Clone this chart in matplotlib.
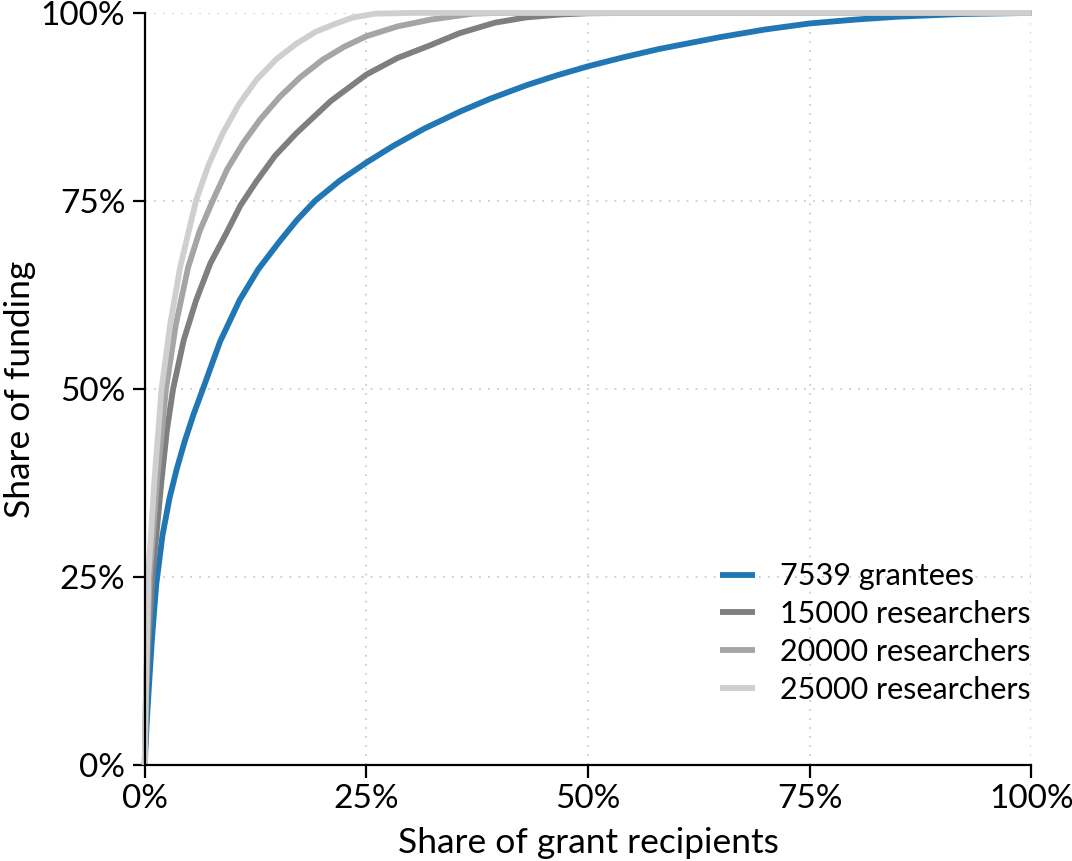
import matplotlib
matplotlib.use("Agg")
import matplotlib.pyplot as plt
from matplotlib.ticker import PercentFormatter

plt.rcParams['font.family'] = ['Lato', 'DejaVu Sans']

# Lorenz-style curves (x = share of recipients %, y = share of funding %)
grantees_x = [0, 0.2, 0.45, 0.8, 1.3, 2.0, 2.8, 3.6, 4.5, 5.5, 6.5, 8.5, 10.7, 12.8, 15.2, 17.2, 19.2, 22, 25,
              28, 31.5, 35.6, 39, 43.1, 46.5, 50, 54, 58, 65, 70, 75, 80, 85, 92, 100]
grantees_y = [0, 5, 10, 16.5, 24, 30.5, 35.5, 39.3, 43, 46.6, 49.8, 56.3, 61.8, 65.9, 69.6, 72.5, 75, 77.7, 80.1,
              82.3, 84.6, 86.9, 88.6, 90.4, 91.7, 92.9, 94.1, 95.2, 96.8, 97.8, 98.6, 99.1, 99.5, 99.85, 100]

r15000_x = [0, 0.15, 0.4, 0.87, 1.9, 2.5, 3.2, 4.4, 5.8, 7.4, 9.2, 10.8, 12.6, 14.7, 17.1, 21, 25, 28.5, 32,
            35.5, 39.5, 43, 47, 50, 55, 100]
r15000_y = [0, 8, 16, 25, 37.9, 44.5, 50, 56.5, 61.8, 66.7, 70.7, 74.4, 77.6, 81, 84.0, 88.3, 91.8, 94, 95.6,
            97.3, 98.7, 99.4, 99.8, 99.95, 100, 100]

r20000_x = [0, 0.12, 0.3, 0.56, 1.4, 2.4, 3.5, 4.9, 6.2, 7.7, 9.3, 11.1, 13, 15.2, 17.5, 20.1, 22.5, 25,
            28.5, 32.2, 37, 40, 100]
r20000_y = [0, 8, 16, 25, 37.9, 50, 58.5, 66.2, 71, 75.1, 79.2, 82.7, 85.8, 88.8, 91.4, 93.8, 95.5, 96.9,
            98.2, 99.1, 99.9, 100, 100]

r25000_x = [0, 0.1, 0.25, 0.4, 1.1, 1.9, 2.9, 4.0, 5.8, 7.2, 8.8, 10.6, 12.6, 14.8, 17.1, 19.3, 21.6,
            23.5, 26, 30, 100]
r25000_y = [0, 8, 16, 25, 37.9, 50, 58.8, 66.2, 75.1, 79.8, 84.0, 87.8, 91.1, 93.8, 95.9, 97.5, 98.6,
            99.4, 99.9, 100, 100]

labels = ["7539 grantees", "15000 researchers", "20000 researchers", "25000 researchers"]
colors = ["#2177b4", "#7f7f7f", "#a5a5a5", "#cfcfcf"]
ticks = [0, 25, 50, 75, 100]

fig = plt.figure(figsize=(10.72, 8.61), dpi=100)
ax = fig.add_axes([0.135, 0.1115, 0.827, 0.8735])

series = [(grantees_x, grantees_y), (r15000_x, r15000_y), (r20000_x, r20000_y), (r25000_x, r25000_y)]
for (xs, ys), lab, col in zip(series, labels, colors):
    ax.plot(xs, ys, color=col, lw=4.2, label=lab, clip_on=False,
            solid_capstyle='butt', solid_joinstyle='round')

ax.set_xlim(0, 100)
ax.set_ylim(0, 100)
ax.set_xticks(ticks)
ax.set_yticks(ticks)
ax.xaxis.set_major_formatter(PercentFormatter(decimals=0))
ax.yaxis.set_major_formatter(PercentFormatter(decimals=0))
ax.grid(True, color="#cccccc", linestyle=(0, (1, 4)), lw=1.3)
ax.set_axisbelow(True)

for s in ["top", "right"]:
    ax.spines[s].set_visible(False)
for s in ["left", "bottom"]:
    ax.spines[s].set_linewidth(1.6)
ax.tick_params(direction="out", length=9, width=1.6, labelsize=24, pad=5)

ax.set_xlabel("Share of grant recipients", fontsize=25.5, labelpad=9)
ax.set_ylabel("Share of funding", fontsize=25.5, labelpad=3)

ax.legend(loc="lower right", bbox_to_anchor=(1.03, 0.045), frameon=False, fontsize=22,
          handlelength=1.15, handletextpad=0.8, labelspacing=0.32)

fig.savefig("out.png", dpi=100)
